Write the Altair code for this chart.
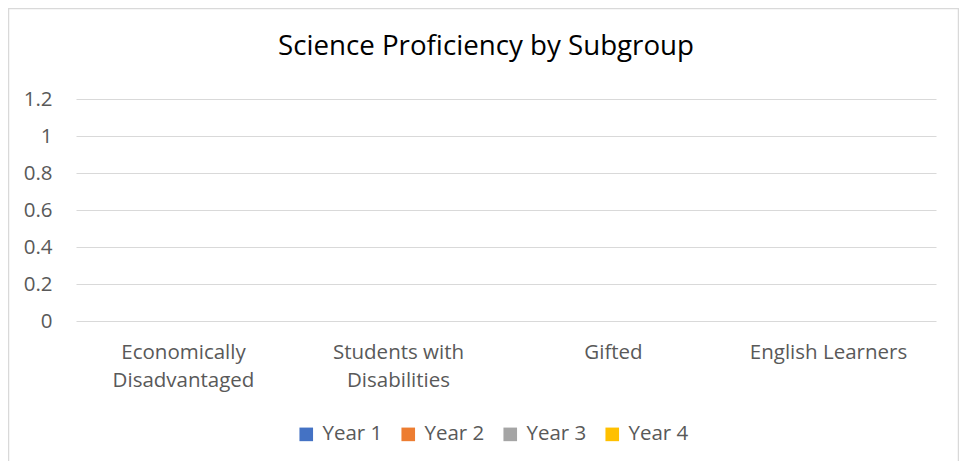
import altair as alt
import pandas as pd

categories = ["Economically\nDisadvantaged", "Students with\nDisabilities", "Gifted", "English Learners"]
years = ["Year 1", "Year 2", "Year 3", "Year 4"]
colors = ["#4472C4", "#ED7D31", "#A5A5A5", "#FFC000"]
values = {
    "Year 1": [0, 0, 0, 0],
    "Year 2": [0, 0, 0, 0],
    "Year 3": [0, 0, 0, 0],
    "Year 4": [0, 0, 0, 0],
}
y_ticks = [0, 0.2, 0.4, 0.6, 0.8, 1.0, 1.2]

rows = []
for yr in years:
    for c, v in zip(categories, values[yr]):
        rows.append({"Subgroup": c, "Year": yr, "Value": v})
df = pd.DataFrame(rows)

FONT = "Open Sans"
LS = 20.5
W, H = 860, 222

bars = alt.Chart(df).mark_bar().encode(
    x=alt.X("Subgroup:N", sort=categories, title=None,
            scale=alt.Scale(paddingInner=0.3, paddingOuter=0.15),
            axis=alt.Axis(labelExpr="split(datum.label, '\\n')", labelAngle=0,
                          labelFontSize=LS, labelColor="#595959", labelFont=FONT,
                          labelPadding=21, labelLineHeight=28, ticks=False, domain=False,
                          labelBaseline="top")),
    xOffset=alt.XOffset("Year:N", sort=years),
    y=alt.Y("Value:Q", title=None,
            scale=alt.Scale(domain=[0, 1.2], nice=False),
            axis=alt.Axis(values=y_ticks, format="~g", ticks=False, domain=False,
                          labelFontSize=LS, labelColor="#595959", labelFont=FONT,
                          labelPadding=24, gridColor="#D9D9D9", gridWidth=1)),
    color=alt.Color("Year:N", sort=years,
                    scale=alt.Scale(domain=years, range=colors),
                    legend=alt.Legend(title=None, orient="none", direction="horizontal",
                                      legendX=220, legendY=325,
                                      symbolType="square", symbolSize=185,
                                      symbolStrokeWidth=0, labelFontSize=LS,
                                      labelColor="#595959", labelFont=FONT,
                                      columnPadding=15, labelOffset=6)),
)

border = alt.Chart(pd.DataFrame({"a": [0]})).mark_rect(
    fill=None, stroke="#D9D9D9", strokeWidth=1.5
).encode(
    x=alt.value(-67.5), x2=alt.value(W + 22.5),
    y=alt.value(-90.5), y2=alt.value(H + 160),
)

chart = alt.layer(border, bars).properties(
    width=W, height=H,
    padding={"left": 68, "top": 91, "right": 23, "bottom": 140},
    autosize=alt.AutoSizeParams(type="none"),
    background="white",
    title=alt.Title("Science Proficiency by Subgroup", font=FONT, fontSize=27.7,
                    fontWeight="normal", color="#000000", anchor="middle",
                    dx=-20, offset=-53),
).configure_view(stroke=None)

chart.save("out.html", embed_options={"renderer": "svg", "actions": False})
